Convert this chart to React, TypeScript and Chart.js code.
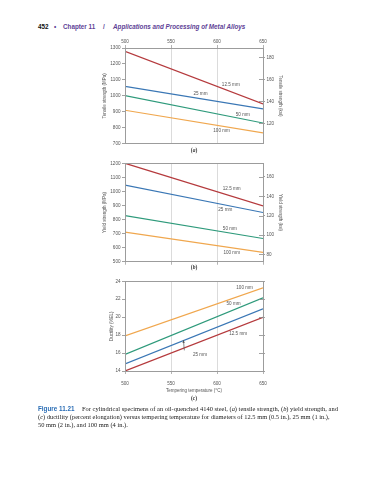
import React, { useEffect, useRef } from "react";
import { Chart, registerables } from "chart.js";
Chart.register(...registerables);

// ---------- data ----------
const temperatures = [500, 650];
const diameters = ["12.5 mm", "25 mm", "50 mm", "100 mm"];

const tensile125 = [1279, 949];
const tensile25 = [1060, 918];
const tensile50 = [1002, 830];
const tensile100 = [910, 768];

const yield125 = [1200, 897];
const yield25 = [1044, 850];
const yield50 = [828, 665];
const yield100 = [711, 566];

const ductility125 = [14.0, 19.97];
const ductility25 = [14.8, 20.93];
const ductility50 = [15.85, 22.15];
const ductility100 = [17.9, 23.27];

const tempTicks = [500, 550, 600, 650];
const tensileTicks = [700, 800, 900, 1000, 1100, 1200, 1300];
const tensileKsiTicks = [120, 140, 160, 180];
const yieldTicks = [500, 600, 700, 800, 900, 1000, 1100, 1200];
const yieldKsiTicks = [80, 100, 120, 140, 160];
const ductilityTicks = [14, 16, 18, 20, 22, 24];

const MPA_PER_KSI = 6.895;

// curve labels: [text, temperature, value]
const tensileLabels: [string, number, number][] = [
  ["12.5 mm", 615, 1070],
  ["25 mm", 582, 1012],
  ["50 mm", 628, 883],
  ["100 mm", 605, 783],
];
const yieldLabels: [string, number, number][] = [
  ["12.5 mm", 616, 1018],
  ["25 mm", 609, 869],
  ["50 mm", 614, 736],
  ["100 mm", 616, 566],
];
const ductilityLabels: [string, number, number][] = [
  ["100 mm", 630, 23.27],
  ["50 mm", 618, 21.49],
  ["12.5 mm", 623, 18.11],
  ["25 mm", 581.5, 15.82],
];
// arrow from the "25 mm" label to its line: [x1, y1, x2, y2]
const ductilityArrow = [564.5, 16.3, 563.5, 17.45];

// ---------- styles ----------
const seriesColors = ["#b53a3d", "#3a77b5", "#2e9a7b", "#f0a74e"];
const FONT = '"Liberation Sans", Arial, sans-serif';
const tickFont = { family: FONT, size: 4.6 };
const titleFont = { family: FONT, size: 4.5 };
const textColor = "#555";
const frameColor = "#9c9c9c";
const gridColor = "#d2d2d2";

type ChartSpec = {
  series: number[][];
  yMin: number;
  yMax: number;
  yTicks: number[];
  yTitle: string;
  y2Ticks: number[];
  y2Title?: string;
  y2Labels: boolean;
  xPos: "top" | "bottom";
  xLabels: boolean;
  xTitle?: string;
  xHeight: number;
  leftTitlePad: number;
  padTop: number;
  padBottom: number;
  labels: [string, number, number][];
  arrow?: number[];
  inverseKsi: boolean;
};

const plainTick = (v: any) => String(v);

function makePlugin(spec: ChartSpec) {
  return {
    id: "annotate",
    afterDatasetsDraw(chart: any) {
      const { ctx, chartArea, scales } = chart;
      ctx.save();
      // right side tick marks crossing the frame
      ctx.strokeStyle = "#8a8a8a";
      ctx.lineWidth = 0.8;
      spec.y2Ticks.forEach((v) => {
        const py = Math.round(scales.y2.getPixelForValue(v)) + 0.5;
        ctx.beginPath();
        ctx.moveTo(chartArea.right - 4, py);
        ctx.lineTo(chartArea.right, py);
        ctx.stroke();
      });
      // frame
      ctx.strokeStyle = frameColor;
      ctx.lineWidth = 1;
      const l = Math.floor(chartArea.left) + 0.5;
      const t = Math.floor(chartArea.top) + 0.5;
      const r = Math.floor(chartArea.right) + 0.5;
      const b = Math.floor(chartArea.bottom) + 0.5;
      ctx.strokeRect(l, t, r - l, b - t);
      // curve labels
      ctx.fillStyle = textColor;
      ctx.font = `4.6px ${FONT}`;
      ctx.textAlign = "center";
      ctx.textBaseline = "middle";
      spec.labels.forEach(([txt, x, y]) => {
        ctx.fillText(txt, scales.x.getPixelForValue(x), scales.y.getPixelForValue(y));
      });
      if (spec.arrow) {
        const [x1, y1, x2, y2] = spec.arrow;
        const px1 = scales.x.getPixelForValue(x1);
        const py1 = scales.y.getPixelForValue(y1);
        const px2 = scales.x.getPixelForValue(x2);
        const py2 = scales.y.getPixelForValue(y2);
        ctx.strokeStyle = "#555";
        ctx.lineWidth = 0.7;
        ctx.beginPath();
        ctx.moveTo(px1, py1);
        ctx.lineTo(px2, py2);
        ctx.stroke();
        const ang = Math.atan2(py2 - py1, px2 - px1);
        ctx.fillStyle = "#555";
        ctx.beginPath();
        ctx.moveTo(px2, py2);
        ctx.lineTo(px2 - 3 * Math.cos(ang - 0.4), py2 - 3 * Math.sin(ang - 0.4));
        ctx.lineTo(px2 - 3 * Math.cos(ang + 0.4), py2 - 3 * Math.sin(ang + 0.4));
        ctx.closePath();
        ctx.fill();
      }
      ctx.restore();
    },
  };
}

function makeConfig(spec: ChartSpec): any {
  const datasets = spec.series.map((vals, i) => ({
    label: diameters[i],
    data: temperatures.map((t, j) => ({ x: t, y: vals[j] })),
    borderColor: seriesColors[i],
    borderWidth: 1.2,
    pointRadius: 0,
    fill: false,
    tension: 0,
  }));
  return {
    type: "line",
    data: { datasets },
    plugins: [makePlugin(spec)],
    options: {
      animation: false,
      responsive: false,
      devicePixelRatio: 1,
      layout: { padding: { top: spec.padTop, bottom: spec.padBottom, left: 0, right: 0 } },
      plugins: { legend: { display: false }, tooltip: { enabled: false }, title: { display: false } },
      scales: {
        x: {
          type: "linear",
          position: spec.xPos,
          min: 500,
          max: 650,
          afterBuildTicks: (s: any) => {
            s.ticks = tempTicks.map((v) => ({ value: v }));
          },
          afterFit: (s: any) => {
            s.height = spec.xHeight;
          },
          border: { display: false },
          grid: {
            color: gridColor,
            lineWidth: 0.8,
            drawTicks: true,
            tickLength: 3,
            tickColor: "#a0a0a0",
          },
          ticks: {
            display: spec.xLabels,
            font: tickFont,
            color: textColor,
            padding: spec.xPos === "top" ? 0.5 : 6.5,
            maxRotation: 0,
            callback: plainTick,
          },
          title: spec.xTitle
            ? { display: true, text: spec.xTitle, font: titleFont, color: textColor, padding: { top: 0, bottom: 2.3 } }
            : { display: false },
        },
        y: {
          position: "left",
          min: spec.yMin,
          max: spec.yMax,
          afterBuildTicks: (s: any) => {
            s.ticks = spec.yTicks.map((v) => ({ value: v }));
          },
          afterFit: (s: any) => {
            s.width = 30;
          },
          border: { display: false },
          grid: { drawOnChartArea: false, drawTicks: true, tickLength: 3, tickColor: "#8a8a8a", lineWidth: 0.8 },
          ticks: { font: tickFont, color: textColor, padding: 1.5, callback: plainTick },
          title: {
            display: true,
            text: spec.yTitle,
            font: titleFont,
            color: textColor,
            padding: { top: spec.leftTitlePad, bottom: 0 },
          },
        },
        y2: {
          position: "right",
          min: spec.inverseKsi ? spec.yMin / MPA_PER_KSI : spec.yMin,
          max: spec.inverseKsi ? spec.yMax / MPA_PER_KSI : spec.yMax,
          afterBuildTicks: (s: any) => {
            s.ticks = spec.y2Ticks.map((v) => ({ value: v }));
          },
          afterFit: (s: any) => {
            s.width = 32;
          },
          border: { display: false },
          grid: { drawOnChartArea: false, drawTicks: true, tickLength: 2, tickColor: "#8a8a8a", lineWidth: 0.8 },
          ticks: {
            display: spec.y2Labels,
            font: tickFont,
            color: textColor,
            padding: 1.5,
            callback: plainTick,
          },
          title: spec.y2Title
            ? { display: true, text: spec.y2Title, font: titleFont, color: textColor, padding: { top: 12.3, bottom: 0 } }
            : { display: false },
        },
      },
    },
  };
}

const specA: ChartSpec = {
  series: [tensile125, tensile25, tensile50, tensile100],
  yMin: 700,
  yMax: 1300,
  yTicks: tensileTicks,
  yTitle: "Tensile strength (MPa)",
  y2Ticks: tensileKsiTicks,
  y2Title: "Tensile strength (ksi)",
  y2Labels: true,
  xPos: "top",
  xLabels: true,
  xHeight: 13,
  leftTitlePad: 7.3,
  padTop: 0,
  padBottom: 4,
  labels: tensileLabels,
  inverseKsi: true,
};

const specB: ChartSpec = {
  series: [yield125, yield25, yield50, yield100],
  yMin: 500,
  yMax: 1200,
  yTicks: yieldTicks,
  yTitle: "Yield strength (MPa)",
  y2Ticks: yieldKsiTicks,
  y2Title: "Yield strength (ksi)",
  y2Labels: true,
  xPos: "bottom",
  xLabels: false,
  xHeight: 0,
  leftTitlePad: 7.3,
  padTop: 4,
  padBottom: 4,
  labels: yieldLabels,
  inverseKsi: true,
};

const specC: ChartSpec = {
  series: [ductility125, ductility25, ductility50, ductility100],
  yMin: 14,
  yMax: 24,
  yTicks: ductilityTicks,
  yTitle: "Ductility (%EL)",
  y2Ticks: ductilityTicks,
  y2Labels: false,
  xPos: "bottom",
  xLabels: true,
  xTitle: "Tempering temperature (°C)",
  xHeight: 25,
  leftTitlePad: 14,
  padTop: 4,
  padBottom: 0,
  labels: ductilityLabels,
  arrow: ductilityArrow,
  inverseKsi: false,
};

function ChartBox({ spec, top, height }: { spec: ChartSpec; top: number; height: number }) {
  const ref = useRef<HTMLCanvasElement>(null);
  useEffect(() => {
    const chart = new Chart(ref.current as HTMLCanvasElement, makeConfig(spec));
    return () => chart.destroy();
  }, [spec]);
  return (
    <canvas
      ref={ref}
      width={200}
      height={height}
      style={{ position: "absolute", left: 95, top, width: 200, height }}
    />
  );
}

const abs = (left: number, top: number, extra: React.CSSProperties = {}): React.CSSProperties => ({
  position: "absolute",
  left,
  top,
  whiteSpace: "nowrap",
  ...extra,
});

export default function App() {
  const purple = "#5e3f96";
  const hdr: React.CSSProperties = { fontFamily: FONT, fontWeight: "bold", fontSize: 6.3, lineHeight: "7px", color: purple };
  const capSerif: React.CSSProperties = {
    fontFamily: '"Liberation Serif", "Times New Roman", serif',
    fontSize: 6.45,
    lineHeight: "8px",
    color: "#222",
  };
  const subLabel: React.CSSProperties = {
    fontFamily: '"Liberation Serif", serif',
    fontSize: 5.5,
    fontWeight: "bold",
    lineHeight: "6px",
    color: "#333",
    transform: "translate(-50%, -50%)",
  };
  return (
    <div style={{ position: "absolute", left: 0, top: 0, width: 383, height: 480, background: "#fff", overflow: "hidden" }}>
      <span style={abs(38, 23, { ...hdr, color: "#111" })}>452</span>
      <span style={abs(54, 23, hdr)}>•</span>
      <span style={abs(63, 23, hdr)}>Chapter 11</span>
      <span style={abs(103, 23, hdr)}>/</span>
      <span style={abs(113, 23, { ...hdr, fontStyle: "italic" })}>Applications and Processing of Metal Alloys</span>

      <ChartBox spec={specA} top={35} height={113} />
      <span style={abs(194, 150, subLabel)}>
        (<i>a</i>)
      </span>
      <ChartBox spec={specB} top={159} height={107} />
      <span style={abs(194, 267, subLabel)}>
        (<i>b</i>)
      </span>
      <ChartBox spec={specC} top={277} height={119} />
      <span style={abs(194, 397.5, subLabel)}>
        (<i>c</i>)
      </span>

      <span style={abs(38, 405.3, { fontFamily: FONT, fontWeight: "bold", fontSize: 6.3, lineHeight: "8px", color: "#2a6db5" })}>
        Figure 11.21
      </span>
      <span style={abs(82, 405.3, capSerif)}>
        For cylindrical specimens of an oil-quenched 4140 steel, (<i>a</i>) tensile strength, (<i>b</i>) yield strength, and
      </span>
      <span style={abs(38, 413.3, capSerif)}>
        (<i>c</i>) ductility (percent elongation) versus tempering temperature for diameters of 12.5 mm (0.5 in.), 25 mm (1 in.),
      </span>
      <span style={abs(38, 421.3, capSerif)}>50 mm (2 in.), and 100 mm (4 in.).</span>
    </div>
  );
}
